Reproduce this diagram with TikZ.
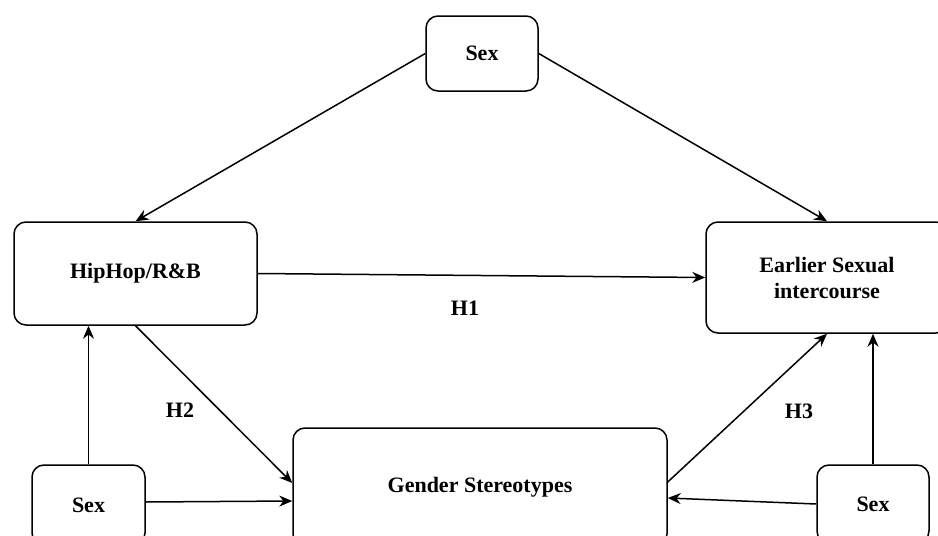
\documentclass[tikz,border=0pt]{standalone}
\usepackage{fontspec}
\setmainfont{Liberation Serif}
\usetikzlibrary{arrows.meta}

\begin{document}
\begin{tikzpicture}[x=0.5pt,y=-0.5pt,->,>={Stealth[length=6.5pt,width=5.5pt]},line width=0.75pt,
		font=\fontsize{11}{13}\selectfont\bfseries]
		\tikzstyle{every node}=[inner sep=0pt,align=center]
		\tikzstyle{box}=[draw=black,fill=white,rounded corners=6pt]
		\useasboundingbox (0,0) rectangle (938,536);
		
		\node[box,minimum width=56pt,minimum height=37.5pt] (sex1) at (482,53.5) {Sex};
		\node[box,minimum width=121.5pt,minimum height=51.5pt] (hiphop) at (135.5,273.5) {HipHop/R\&B};
		\node[box,minimum width=121pt,minimum height=55.5pt] (early) at (827,277.5) {Earlier Sexual\\intercourse};
		\node[box,minimum width=187pt,minimum height=59pt] (gender) at (480,487) {Gender Stereotypes};
		\node[box,minimum width=56.5pt,minimum height=40pt] (sex2) at (88.5,505) {Sex};
		\node[box,minimum width=56pt,minimum height=39pt] (sex3) at (873,504) {Sex};
		
		\node (h1) at (465,308) {H1};
		\node (h2) at (180,410) {H2};
		\node (h3) at (799,411) {H3};
		
		\path 
		(sex1.west) edge (hiphop.north)
		(sex1.east) edge (early.north)
		(hiphop.east) edge (early.west)
		(hiphop.south) edge ([yshift=2pt]gender.west)
		(sex2.north) edge (sex2.north |- hiphop.south)
		([yshift=1.5pt]sex2.east) edge ([yshift=-7pt]gender.west)
		([yshift=2.5pt]gender.east) edge (early.south)
		(sex3.north) edge (sex3.north |- early.south)
		(sex3.west) edge ([yshift=-5.5pt]gender.east);
		\end{tikzpicture}
\end{document}
